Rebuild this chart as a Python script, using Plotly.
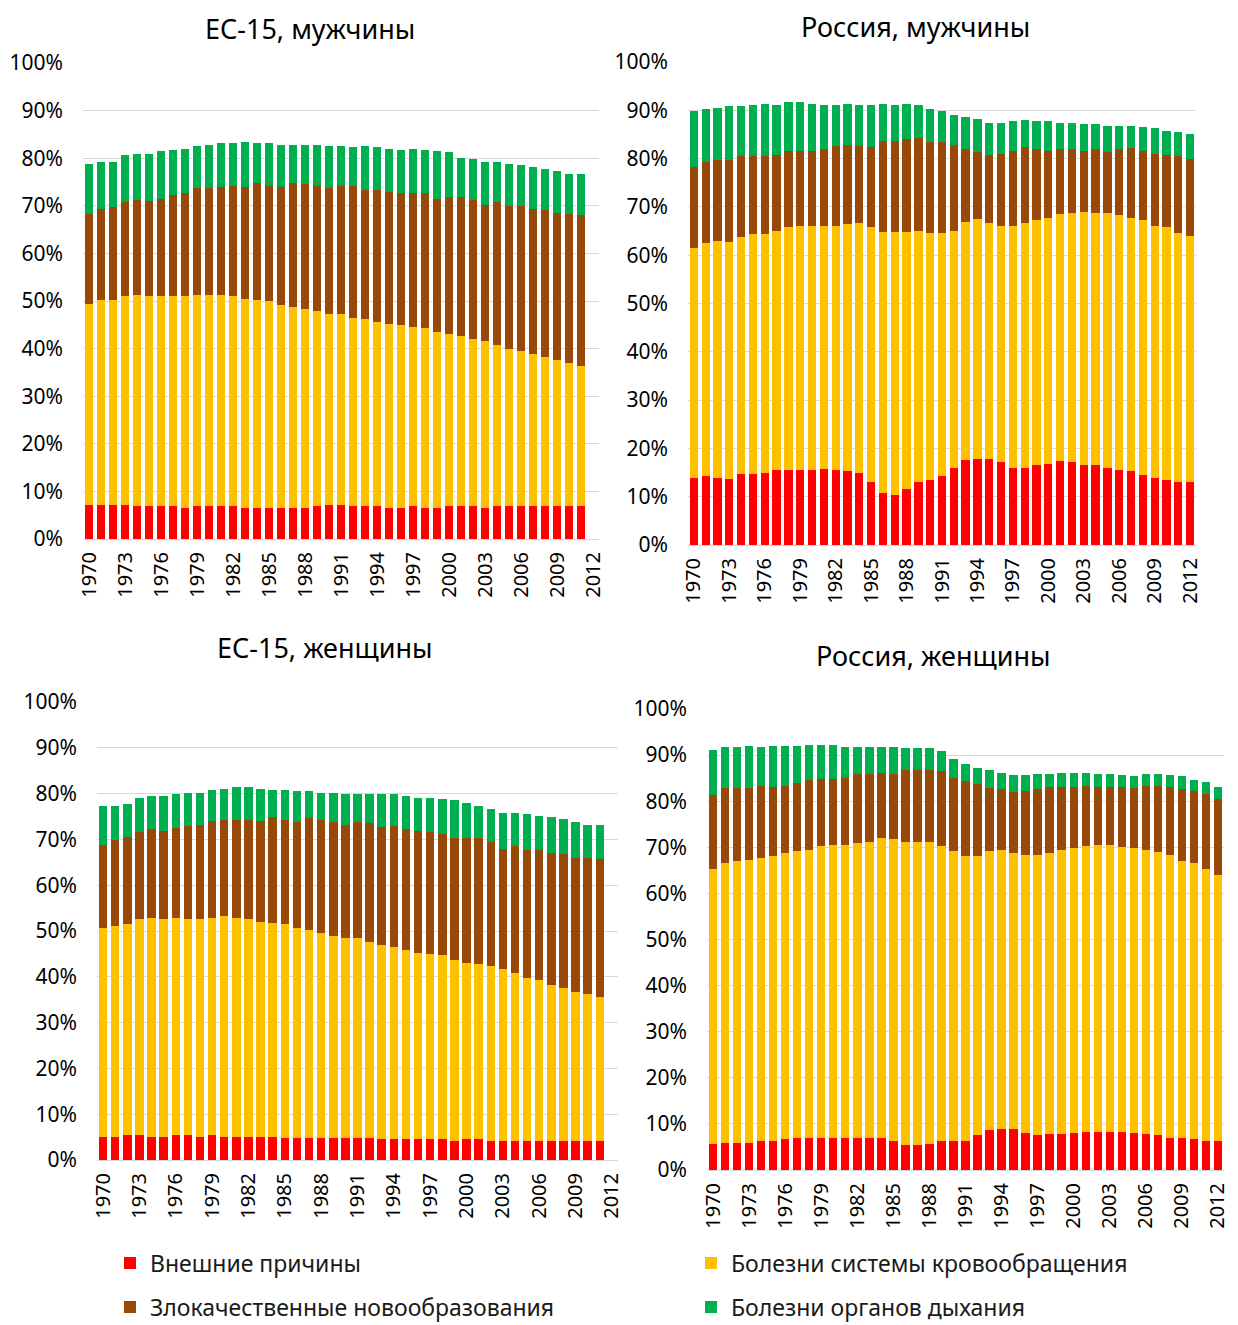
import plotly.graph_objects as go

W, H = 1238, 1325

years = [str(y) for y in range(1970, 2013)]
tick_years = years[::3]

cause_names = [
    "Внешние причины",
    "Болезни системы кровообращения",
    "Злокачественные новообразования",
    "Болезни органов дыхания",
]
cause_colors = ["#FF0000", "#FFC000", "#984807", "#00B050"]

# Shares of deaths by cause, % (EU-15 series run 1970-2011)
eu_m_external = [7.2, 7.2, 7.2, 7.2, 6.9, 6.9, 6.9, 6.9, 6.6, 6.9, 6.9, 6.9, 6.9, 6.6, 6.6, 6.6, 6.6, 6.6, 6.6, 6.9, 7.2,
                 7.2, 6.9, 6.9, 6.9, 6.6, 6.6, 6.9, 6.6, 6.6, 6.9, 6.9, 6.9, 6.6, 6.9, 6.9, 6.9, 6.9, 6.9, 6.9, 6.9, 6.9]
eu_m_circulatory = [42.2, 43.1, 43.1, 43.8, 44.4, 44.1, 44.1, 44.1, 44.4, 44.4, 44.4, 44.4, 44.1, 43.9, 43.7, 43.4, 42.5,
                    42.2, 41.8, 40.9, 40.0, 40.0, 39.6, 39.3, 38.7, 38.5, 38.3, 37.7, 37.7, 36.9, 36.1, 35.8, 35.2, 35.0,
                    33.9, 33.0, 32.6, 32.0, 31.4, 30.7, 30.1, 29.5]
eu_m_neoplasms = [18.9, 19.0, 19.4, 19.7, 20.0, 20.0, 20.5, 21.3, 21.6, 22.4, 22.4, 22.6, 23.2, 23.4, 24.5, 24.2, 24.8,
                  26.0, 26.1, 26.4, 26.5, 27.0, 27.7, 27.2, 27.8, 27.8, 27.7, 28.0, 28.3, 28.0, 28.8, 29.1, 29.2, 28.6,
                  29.9, 30.0, 30.4, 30.4, 30.8, 30.9, 31.3, 31.6]
eu_m_respiratory = [10.5, 9.8, 9.6, 10.0, 9.6, 9.9, 10.0, 9.5, 9.4, 8.9, 9.1, 9.2, 8.9, 9.5, 8.3, 8.9, 8.9, 8.0, 8.3, 8.6,
                    8.9, 8.4, 8.1, 9.2, 8.9, 9.1, 9.2, 9.4, 9.2, 10.0, 9.4, 8.3, 8.6, 9.1, 8.6, 8.9, 8.6, 8.9, 8.6, 8.9,
                    8.3, 8.6]

ru_m_external = [13.9, 14.2, 13.9, 13.7, 14.7, 14.7, 15.0, 15.5, 15.5, 15.5, 15.5, 15.7, 15.5, 15.3, 15.0, 13.1, 10.7,
                 10.4, 11.5, 13.1, 13.4, 14.2, 16.0, 17.6, 17.9, 17.9, 17.1, 16.0, 16.0, 16.6, 16.8, 17.3, 17.1, 16.6,
                 16.6, 16.0, 15.5, 15.3, 14.4, 13.9, 13.4, 13.1, 13.1]
ru_m_circulatory = [47.5, 48.3, 49.0, 49.0, 49.1, 49.6, 49.3, 49.6, 50.3, 50.6, 50.6, 50.4, 50.6, 51.1, 51.7, 52.7, 54.1,
                    54.4, 53.3, 52.0, 51.1, 50.3, 49.1, 49.3, 49.5, 48.8, 49.0, 50.1, 50.7, 50.6, 50.9, 51.2, 51.7, 52.4,
                    52.2, 52.8, 52.8, 52.4, 52.8, 52.2, 52.4, 51.4, 50.9]
ru_m_neoplasms = [16.9, 16.9, 16.8, 17.0, 16.7, 16.2, 16.2, 15.7, 15.8, 15.5, 15.5, 15.8, 16.5, 16.5, 15.9, 16.5, 18.9,
                  18.9, 19.2, 19.1, 18.9, 18.9, 17.8, 15.0, 13.9, 14.1, 14.9, 15.5, 15.6, 14.7, 13.9, 13.4, 13.1, 12.6,
                  13.1, 12.5, 13.6, 14.4, 14.4, 14.9, 15.0, 16.0, 16.0]
ru_m_respiratory = [11.5, 10.9, 10.8, 11.1, 10.3, 10.6, 10.9, 10.3, 10.1, 10.1, 9.8, 9.2, 8.5, 8.5, 8.5, 8.8, 7.7, 7.4,
                    7.4, 6.9, 6.9, 6.4, 6.1, 6.8, 6.9, 6.6, 6.4, 6.1, 5.6, 5.8, 6.1, 5.5, 5.5, 5.5, 5.2, 5.5, 4.9, 4.7,
                    5.0, 5.3, 5.0, 5.0, 5.0]

eu_f_external = [5.1, 5.1, 5.4, 5.4, 5.1, 5.1, 5.4, 5.4, 5.1, 5.4, 5.1, 5.1, 5.1, 5.1, 5.1, 4.8, 4.8, 4.8, 4.8, 4.8, 4.8,
                 4.8, 4.8, 4.5, 4.5, 4.5, 4.5, 4.5, 4.5, 4.2, 4.5, 4.5, 4.2, 4.2, 4.2, 4.2, 4.2, 4.2, 4.2, 4.2, 4.2, 4.2]
eu_f_circulatory = [45.5, 46.1, 46.1, 47.2, 47.8, 47.5, 47.5, 47.2, 47.5, 47.5, 48.1, 47.8, 47.5, 46.9, 46.6, 46.7, 45.8,
                    45.5, 44.7, 44.2, 43.6, 43.6, 42.8, 42.5, 41.9, 41.4, 40.8, 40.5, 40.2, 39.4, 38.6, 38.3, 38.1, 37.5,
                    36.7, 35.5, 35.0, 34.1, 33.3, 32.5, 32.0, 31.4]
eu_f_neoplasms = [18.1, 18.6, 19.0, 19.0, 19.3, 19.3, 19.5, 20.4, 20.6, 21.2, 21.1, 21.4, 21.7, 22.1, 23.2, 22.8, 23.2,
                  24.3, 24.8, 24.8, 24.8, 25.4, 25.9, 25.7, 26.6, 26.3, 26.6, 26.6, 26.4, 26.6, 27.1, 27.4, 27.1, 26.2,
                  27.6, 27.9, 28.4, 28.8, 29.3, 29.3, 29.8, 30.2]
eu_f_respiratory = [8.5, 7.4, 7.3, 7.5, 7.2, 7.5, 7.5, 7.2, 7.0, 6.7, 6.8, 7.1, 7.1, 7.0, 5.9, 6.5, 6.7, 5.9, 5.9, 6.4,
                    6.7, 6.1, 6.4, 7.2, 6.9, 7.2, 7.2, 7.5, 7.7, 8.4, 7.8, 7.0, 7.2, 7.9, 7.3, 7.9, 7.6, 7.8, 7.6, 7.8,
                    7.2, 7.4]

ru_f_external = [5.6, 5.9, 5.9, 5.9, 6.4, 6.4, 6.7, 7.0, 7.0, 7.0, 7.0, 7.0, 7.0, 7.0, 7.0, 6.4, 5.4, 5.4, 5.6, 6.2, 6.2,
                 6.4, 7.5, 8.6, 8.9, 8.9, 8.1, 7.5, 7.8, 7.8, 8.1, 8.3, 8.3, 8.3, 8.3, 8.1, 7.8, 7.5, 7.0, 7.0, 6.7, 6.4,
                 6.4]
ru_f_circulatory = [59.7, 60.8, 61.1, 61.4, 61.2, 61.7, 62.0, 62.3, 62.5, 63.3, 63.6, 63.6, 63.9, 64.2, 65.0, 65.4, 65.8,
                    65.8, 65.6, 64.1, 63.1, 61.7, 60.6, 60.7, 60.6, 59.8, 60.3, 60.9, 60.9, 61.7, 61.7, 62.0, 62.3, 62.3,
                    61.7, 61.7, 61.7, 61.5, 61.4, 60.0, 60.0, 58.9, 57.6]
ru_f_neoplasms = [16.1, 16.2, 15.9, 15.6, 15.8, 15.0, 14.7, 14.7, 15.0, 14.5, 14.2, 14.5, 15.1, 14.8, 14.2, 14.2, 15.6,
                  15.6, 15.6, 16.2, 15.8, 16.2, 15.6, 13.6, 13.1, 13.4, 13.9, 14.2, 14.4, 13.6, 13.3, 13.1, 12.5, 12.5,
                  13.1, 13.1, 13.9, 14.4, 14.7, 15.6, 15.6, 16.2, 16.4]
ru_f_respiratory = [9.8, 8.9, 8.9, 9.1, 8.4, 8.9, 8.6, 8.0, 7.8, 7.5, 7.5, 6.7, 5.8, 5.8, 5.6, 5.8, 4.7, 4.7, 4.7, 4.4,
                    4.1, 3.8, 3.6, 3.9, 3.6, 3.5, 3.3, 3.3, 2.8, 3.1, 3.1, 2.8, 2.8, 2.8, 2.5, 2.5, 2.5, 2.5, 2.5, 2.8,
                    2.2, 2.7, 2.7]

# Panel placement in pixels: (left, right, top of 100%, bottom at 0%), title centre
panels = [
    dict(title="ЕС-15, мужчины", series=[eu_m_external, eu_m_circulatory, eu_m_neoplasms, eu_m_respiratory],
         box=(83, 599, 63, 539), title_xy=(310, 28)),
    dict(title="Россия, мужчины", series=[ru_m_external, ru_m_circulatory, ru_m_neoplasms, ru_m_respiratory],
         box=(688, 1196, 62, 545), title_xy=(915, 27)),
    dict(title="ЕС-15, женщины", series=[eu_f_external, eu_f_circulatory, eu_f_neoplasms, eu_f_respiratory],
         box=(97, 618, 702, 1160), title_xy=(325, 647)),
    dict(title="Россия, женщины", series=[ru_f_external, ru_f_circulatory, ru_f_neoplasms, ru_f_respiratory],
         box=(707, 1224, 709, 1170), title_xy=(933, 655)),
]

# One legend per cause, laid out as a 2x2 grid under the charts (pixels)
legend_ids = ["legend", "legend2", "legend3", "legend4"]
legend_xy = [(110, 1263), (691, 1263), (110, 1307), (691, 1307)]

FONT = "Noto Sans"
fig = go.Figure()
annotations = []

for i, p in enumerate(panels):
    k = "" if i == 0 else str(i + 1)
    left, right, top, bottom = p["box"]
    for j, values in enumerate(p["series"]):
        fig.add_trace(go.Bar(
            x=years[:len(values)], y=values, name=cause_names[j],
            marker=dict(color=cause_colors[j], line=dict(width=0)),
            xaxis="x" + k, yaxis="y" + k,
            legend=legend_ids[j],
            legendgroup=cause_names[j], showlegend=(i == 0),
        ))
    fig.layout["xaxis" + k] = dict(
        domain=[left / W, right / W], anchor="y" + k,
        type="category", categoryorder="array", categoryarray=years,
        range=[-0.5, len(years) - 0.5],
        tickmode="array", tickvals=tick_years, tickangle=-90,
        tickfont=dict(family=FONT, size=20, color="#000000"),
        ticks="", showgrid=False, showline=True, linecolor="#d9d9d9", linewidth=1,
        ticklabelstandoff=4, fixedrange=True,
    )
    fig.layout["yaxis" + k] = dict(
        domain=[1 - bottom / H, 1 - top / H], anchor="x" + k,
        range=[0, 100], dtick=10, ticksuffix="%",
        tickfont=dict(family=FONT, size=21, color="#000000"),
        gridcolor="#d9d9d9", gridwidth=1, zeroline=False, showline=False,
        ticklabelstandoff=19, fixedrange=True,
    )
    tx, ty = p["title_xy"]
    annotations.append(dict(
        text=p["title"], x=tx / W, y=1 - ty / H, xref="paper", yref="paper",
        xanchor="center", yanchor="middle", showarrow=False,
        font=dict(family=FONT, size=27, color="#000000"),
    ))

layout_legends = {}
for lid, (lx, ly) in zip(legend_ids, legend_xy):
    layout_legends[lid] = dict(
        x=lx / W, y=1 - ly / H, xanchor="left", yanchor="middle",
        orientation="h", font=dict(family=FONT, size=23, color="#1a1a1a"),
        bgcolor="rgba(0,0,0,0)",
    )

fig.update_layout(
    width=W, height=H,
    margin=dict(l=0, r=0, t=0, b=0, autoexpand=False),
    paper_bgcolor="#ffffff", plot_bgcolor="#ffffff",
    barmode="stack", bargap=0.3,
    annotations=annotations,
    showlegend=True,
    **layout_legends,
)

fig.write_html("out.html")
